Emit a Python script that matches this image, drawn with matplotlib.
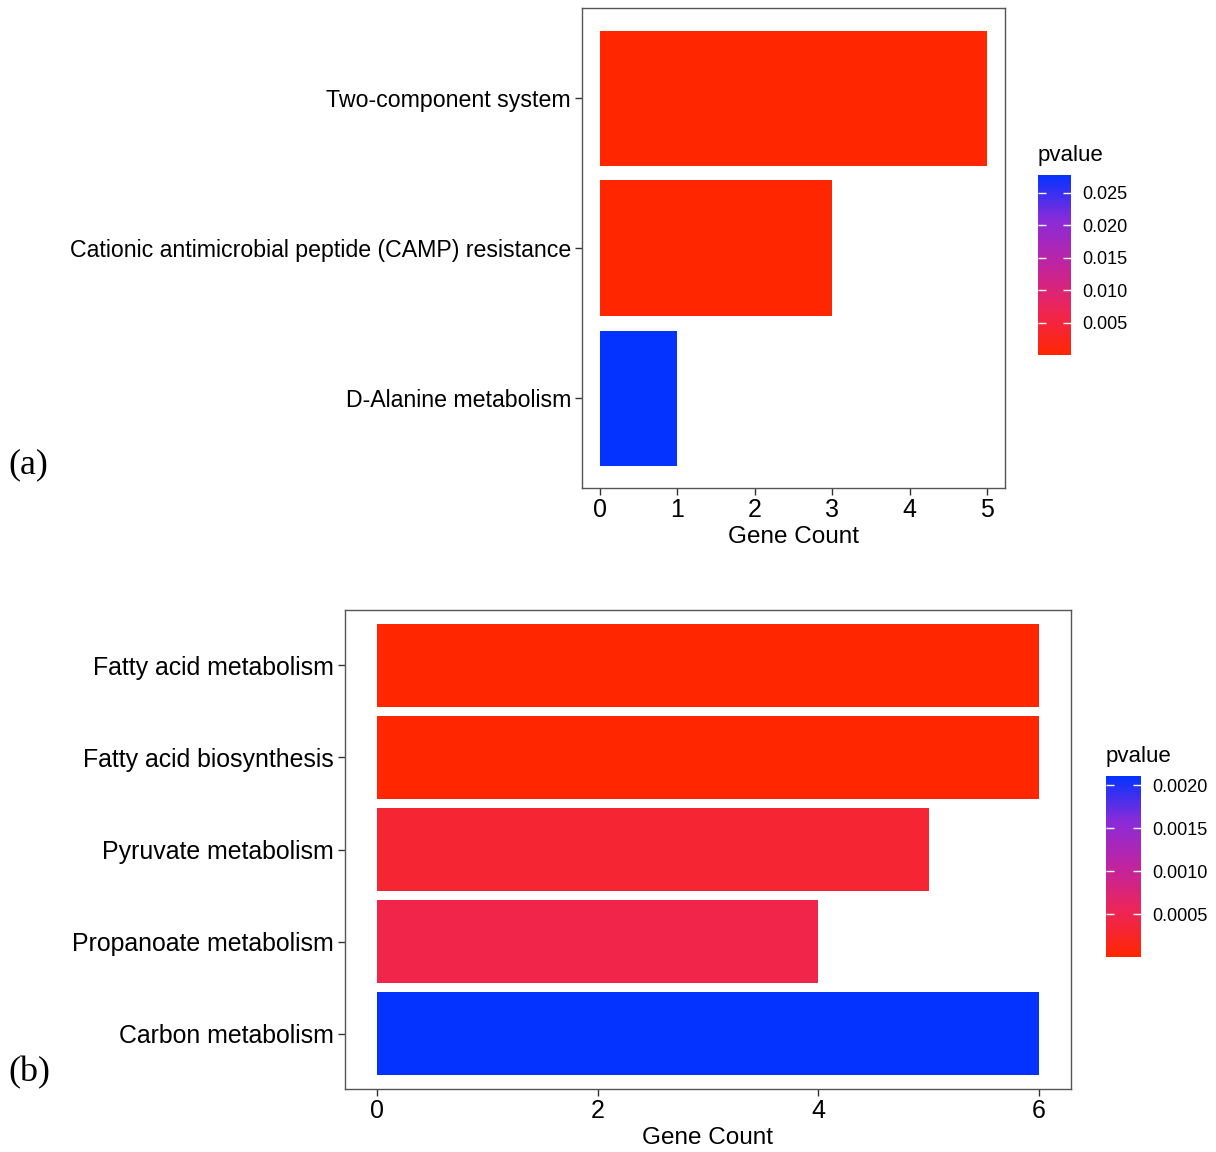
import numpy as np
import matplotlib.pyplot as plt
from matplotlib.colors import LinearSegmentedColormap, Normalize
from matplotlib.cm import ScalarMappable

plt.rcParams['font.family'] = ['Liberation Sans', 'DejaVu Sans']

# panel (a)
terms_a = ['D-Alanine metabolism',
           'Cationic antimicrobial peptide (CAMP) resistance',
           'Two-component system']
count_a = [1, 3, 5]
pval_a = [0.0277, 0.00005, 0.00005]
cbar_ticks_a = [0.005, 0.010, 0.015, 0.020, 0.025]

# panel (b)
terms_b = ['Carbon metabolism', 'Propanoate metabolism', 'Pyruvate metabolism',
           'Fatty acid biosynthesis', 'Fatty acid metabolism']
count_b = [6, 4, 5, 6, 6]
pval_b = [0.00211, 0.00045, 0.00032, 0.000001, 0.000001]
cbar_ticks_b = [0.0005, 0.0010, 0.0015, 0.0020]

cmap = LinearSegmentedColormap.from_list(
    'rb', [(0, '#FF2600'), (0.25, '#EE2556'), (0.5, '#C024A0'),
           (0.75, '#8A2BD9'), (1, '#0433FF')])

W, H = 1216, 1152
fig = plt.figure(figsize=(W / 100, H / 100), dpi=100)


def box(x0, y0, x1, y1):
    return [x0 / W, 1 - y1 / H, (x1 - x0) / W, (y1 - y0) / H]


def panel(ax, cax, terms, counts, pvals, cticks, cfmt, xticks, xlim, lsize):
    norm = Normalize(min(pvals), max(pvals))
    y = np.arange(1, len(terms) + 1)
    ax.barh(y, counts, height=0.9, color=cmap(norm(np.array(pvals))))
    ax.set_yticks(y)
    ax.set_yticklabels(terms, fontsize=lsize)
    ax.set_xticks(xticks)
    ax.set_xlim(xlim)
    ax.set_ylim(0.4, len(terms) + 0.6)
    ax.set_xlabel('Gene Count', fontsize=17.5, labelpad=3)
    ax.tick_params(length=5, width=1, color='#333333',
                   labelcolor='black', pad=2)
    ax.tick_params(axis='y', pad=3)
    ax.tick_params(axis='x', labelsize=18)
    for s in ax.spines.values():
        s.set_color('#555555')
        s.set_linewidth(1)

    sm = ScalarMappable(norm=norm, cmap=cmap)
    cb = fig.colorbar(sm, cax=cax)
    cb.outline.set_visible(False)
    cb.set_ticks(cticks)
    cb.set_ticklabels([cfmt % t for t in cticks])
    cax.tick_params(labelsize=13, length=6, width=1, color='white',
                    direction='in', left=True, right=True, pad=8)
    cax.set_title('pvalue', fontsize=16, loc='left', pad=10)


ax_a = fig.add_axes(box(582, 8, 1005, 488))
cax_a = fig.add_axes(box(1038, 175, 1071, 355))
panel(ax_a, cax_a, terms_a, count_a, pval_a, cbar_ticks_a, '%.3f',
      [0, 1, 2, 3, 4, 5], (-0.23, 5.23), 16.7)

ax_b = fig.add_axes(box(345, 610, 1071, 1089))
cax_b = fig.add_axes(box(1106, 776, 1141, 957))
panel(ax_b, cax_b, terms_b, count_b, pval_b, cbar_ticks_b, '%.4f',
      [0, 2, 4, 6], (-0.29, 6.29), 17.9)

fig.text(8 / W, 1 - 465 / H, '(a)', fontsize=26, family='Liberation Serif',
         va='center')
fig.text(8 / W, 1 - 1073 / H, '(b)', fontsize=26, family='Liberation Serif',
         va='center')

fig.savefig('out.png', dpi=100)
